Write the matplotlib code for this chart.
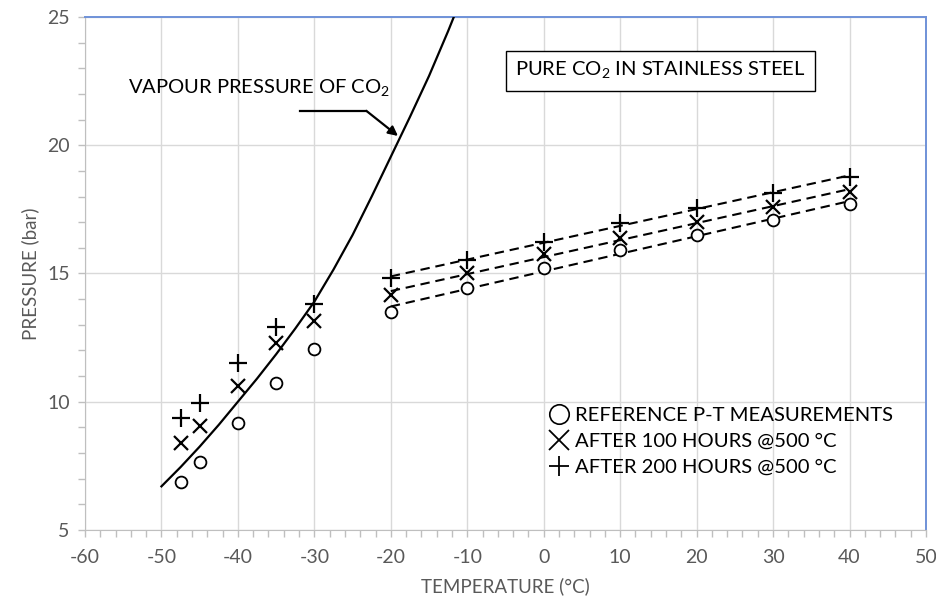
import matplotlib
matplotlib.use("Agg")
import matplotlib.pyplot as plt
import numpy as np
from matplotlib.lines import Line2D
from matplotlib.ticker import MultipleLocator

plt.rcParams["font.family"] = ["Lato", "DejaVu Sans"]
plt.rcParams["mathtext.fontset"] = "custom"
plt.rcParams["mathtext.rm"] = "Lato"
plt.rcParams["axes.unicode_minus"] = False

# vapour pressure of CO2
vap_t = [-50, -47.5, -45, -42.5, -40, -37.5, -35, -32.5, -30, -27.5,
         -25, -22.5, -20, -17.5, -15, -12.5, -10]
vap_p = [6.7, 7.45, 8.25, 9.1, 10.0, 10.9, 11.85, 12.85, 13.9, 15.15,
         16.5, 18.0, 19.55, 21.1, 22.7, 24.45, 26.3]

# measurements below -20 C (two-phase region)
low_t = [-47.5, -45, -40, -35, -30]
low_ref = [6.88, 7.64, 9.16, 10.74, 12.06]
low_100 = [8.40, 9.07, 10.61, 12.28, 13.16]
low_200 = [9.38, 9.94, 11.50, 12.93, 13.81]

# measurements from -20 C up (gas region, fitted with straight lines)
high_t = [-20, -10, 0, 10, 20, 30, 40]
high_ref = [13.51, 14.42, 15.23, 15.92, 16.50, 17.09, 17.70]
high_100 = [14.16, 15.00, 15.76, 16.37, 17.02, 17.60, 18.19]
high_200 = [14.81, 15.53, 16.24, 16.96, 17.54, 18.13, 18.77]

legend_labels = ["REFERENCE P-T MEASUREMENTS",
                 "AFTER 100 HOURS @500 \u00b0C",
                 "AFTER 200 HOURS @500 \u00b0C"]

GREY = "#595959"

fig = plt.figure(figsize=(9.36, 6.05), dpi=100)
ax = fig.add_axes([0.0908, 0.124, 0.8985, 0.848])

ax.plot(vap_t, vap_p, color="black", lw=1.6, zorder=3)

styles = [
    dict(marker="o", ms=8.5, mfc="white", mec="black", mew=1.3),
    dict(marker="x", ms=9.5, mec="black", mew=1.6),
    dict(marker="+", ms=12.5, mec="black", mew=1.6),
]
for lo, hi, st in zip([low_ref, low_100, low_200],
                      [high_ref, high_100, high_200], styles):
    ax.plot(low_t + high_t, lo + hi, ls="none", zorder=4, **st)
    slope, icpt = np.polyfit(high_t, hi, 1)
    ends = np.array([high_t[0], high_t[-1]])
    ax.plot(ends, slope * ends + icpt, color="black", lw=1.5,
            dashes=(4.5, 2.8), zorder=3)

ax.set_xlim(-60, 50)
ax.set_ylim(5, 25)
ax.xaxis.set_major_locator(MultipleLocator(10))
ax.xaxis.set_minor_locator(MultipleLocator(2))
ax.yaxis.set_major_locator(MultipleLocator(5))
ax.yaxis.set_minor_locator(MultipleLocator(1))
ax.grid(True, which="major", color="#d9d9d9", lw=1.0, zorder=0)
ax.set_axisbelow(True)
ax.tick_params(which="both", direction="out", color="#bfbfbf",
               labelcolor=GREY, labelsize=14, length=5, width=1)
ax.tick_params(axis="x", pad=9)
ax.tick_params(axis="y", pad=6)
for side in ("left", "bottom"):
    ax.spines[side].set_color("#bfbfbf")
for side in ("top", "right"):
    ax.spines[side].set_color("#6f92d8")
    ax.spines[side].set_linewidth(1.4)

ax.set_xlabel("TEMPERATURE (\u00b0C)", color=GREY, fontsize=13.5, labelpad=8)
ax.set_ylabel("PRESSURE (bar)", color=GREY, fontsize=13.5, labelpad=6)

ax.text(-54.4, 22.2, r"VAPOUR PRESSURE OF CO$_\mathregular{2}$",
        fontsize=14.5, ha="left", va="center")
ax.plot([-31.9, -23.2], [21.34, 21.34], color="black", lw=1.6)
ax.annotate("", xy=(-19.06, 20.36), xytext=(-23.2, 21.34),
            arrowprops=dict(arrowstyle="-|>", color="black", lw=1.6,
                            mutation_scale=14, shrinkA=0, shrinkB=0))

ax.text(15.3, 22.9, r"PURE CO$_\mathregular{2}$ IN STAINLESS STEEL",
        fontsize=14.5, ha="center", va="center",
        bbox=dict(boxstyle="square,pad=0.45", fc="white", ec="black", lw=1.0))

handles = [
    Line2D([], [], ls="none", marker="o", ms=14, mfc="white", mec="black", mew=1.2),
    Line2D([], [], ls="none", marker="x", ms=15, mec="black", mew=1.3),
    Line2D([], [], ls="none", marker="+", ms=15, mec="black", mew=1.3),
]
ax.legend(handles, legend_labels, loc="upper left",
          bbox_to_anchor=(0.542, 0.255), frameon=False, fontsize=14.6,
          handlelength=1.0, handletextpad=0.3, labelspacing=0.42,
          borderaxespad=0)

fig.savefig("out.png", dpi=100)
